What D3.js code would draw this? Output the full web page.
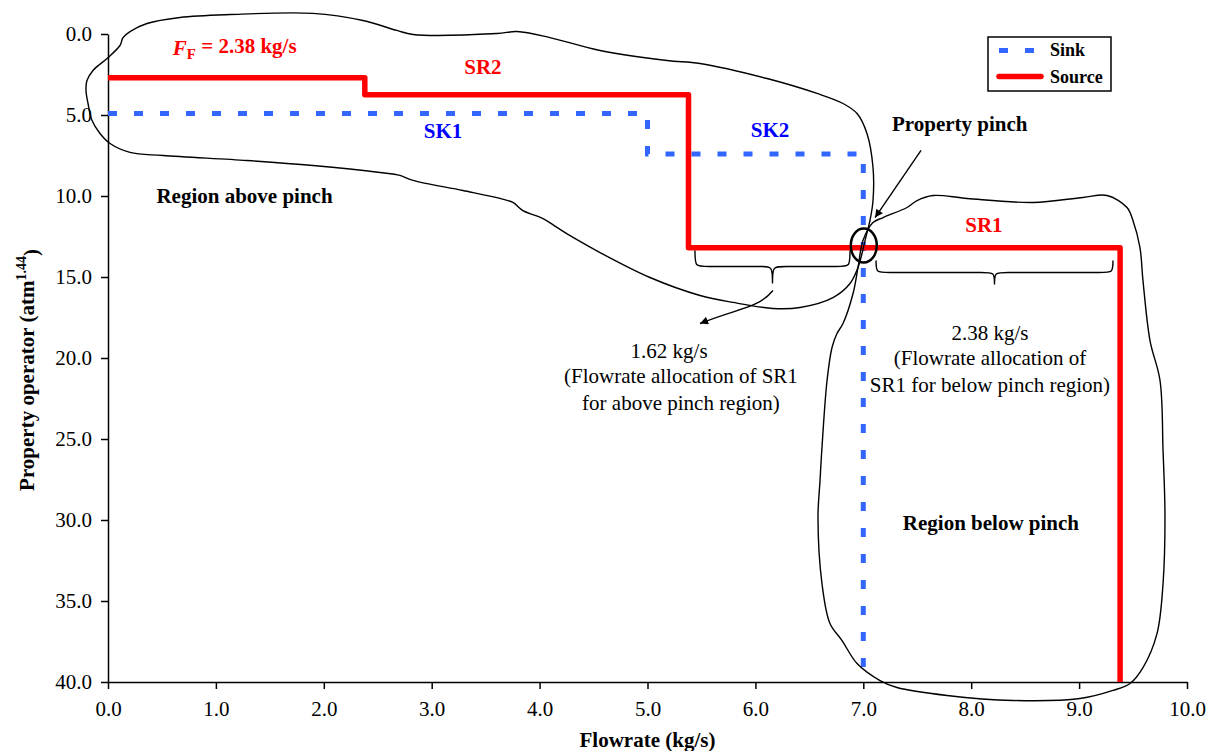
<!DOCTYPE html>
<html>
<head>
<meta charset="utf-8">
<script src="https://cdn.jsdelivr.net/npm/d3@7"></script>
<style>
  body { margin: 0; background: #fff; }
  text { font-family: "Liberation Serif", "Times New Roman", serif; }
</style>
</head>
<body>
<svg id="chart" width="1208" height="751"></svg>
<script>
// ---------------- data ----------------
const xTicks = [0, 1, 2, 3, 4, 5, 6, 7, 8, 9, 10];
const yTicks = [0, 5, 10, 15, 20, 25, 30, 35, 40];

// Sink composite curve (flowrate kg/s, property operator atm^1.44)
const sinkFlow     = [0, 5.0, 5.0, 7.0, 7.0];
const sinkOperator = [4.9, 4.9, 7.4, 7.4, 40];

// Source composite curve
const sourceFlow     = [0, 2.38, 2.38, 5.38, 5.38, 9.38, 9.38];
const sourceOperator = [2.7, 2.7, 3.75, 3.75, 13.2, 13.2, 40];

const seriesNames = ["Sink", "Source"];

// Hand-drawn region outlines (in data units)
const aboveRegionFlow = [0.139,0.204,0.361,0.667,1.131,1.900,2.363,2.678,2.827,3.605,3.791,4.096,4.560,5.181,5.487,6.108,6.571,6.812,6.942,7.034,7.090,7.090,7.062,7.016,6.988,6.951,6.877,6.719,6.413,6.163,5.792,5.487,5.023,4.560,4.310,4.161,4.032,3.846,3.753,3.633,3.290,2.827,2.706,2.521,1.900,1.288,0.510,0.204,0.019,-0.074,-0.148,-0.185,-0.204,-0.195,-0.139,-0.009,0.111];
const aboveRegionOp   = [0.22,-0.15,-0.65,-1.02,-1.20,-1.27,-0.83,-0.22,0.03,-0.03,-0.15,0.22,1.02,1.64,1.82,2.75,3.67,4.29,4.91,6.14,8.24,10.28,11.51,12.75,13.55,14.41,15.40,16.27,16.88,16.94,16.57,16.14,15.03,13.49,12.56,11.94,11.39,10.90,10.40,10.15,9.66,9.04,8.73,8.55,8.12,7.81,7.50,7.31,6.76,6.14,5.34,4.29,3.49,2.87,2.25,1.51,0.71];

const belowRegionFlow = [7.090,6.997,6.951,6.905,6.812,6.756,6.710,6.664,6.617,6.599,6.580,6.617,6.691,6.803,6.942,7.155,7.312,7.776,8.387,9.008,9.314,9.472,9.592,9.722,9.778,9.796,9.778,9.750,9.657,9.592,9.564,9.499,9.444,9.259,9.036,8.573,7.961,7.646,7.498,7.405,7.183];
const belowRegionOp   = [11.64,12.75,14.41,16.02,17.87,18.49,19.35,21.39,25.52,27.56,29.85,33.92,36.39,37.44,38.86,39.91,40.34,40.83,41.14,41.02,40.52,40.09,39.11,37.01,33.92,29.85,25.71,21.39,18.92,15.22,13.18,11.51,10.71,9.97,10.09,10.40,10.15,9.97,10.28,10.71,11.33];

// pinch point and braces (data units)
const pinchPoint = [7.0, 13.06];
const braceAbove = {x1: 5.44, x2: 6.877, y0: 13.36, yf: 14.35, tip: 15.40};
const braceBelow = {x1: 7.118, x2: 9.314, y0: 13.98, yf: 14.72, tip: 15.46};

// ---------------- layout ----------------
const svg = d3.select("#chart");
const x = d3.scaleLinear().domain([0, 10]).range([108, 1187]);
const y = d3.scaleLinear().domain([0, 40]).range([34, 682]);
const fmt = d3.format(".1f");

// defs: arrow marker
const defs = svg.append("defs");
defs.append("marker")
  .attr("id", "arrow")
  .attr("viewBox", "0 0 10 10")
  .attr("refX", 10).attr("refY", 5)
  .attr("markerWidth", 10).attr("markerHeight", 8)
  .attr("markerUnits", "userSpaceOnUse")
  .attr("orient", "auto")
  .append("path").attr("d", "M0,0 L10,5 L0,10 z").attr("fill", "#000");

// axes
const yAxis = svg.append("g")
  .attr("transform", `translate(${x(0)},0)`)
  .call(d3.axisLeft(y).tickValues(yTicks).tickFormat(fmt).tickSizeInner(7).tickSizeOuter(0).tickPadding(9));
const xAxis = svg.append("g")
  .attr("transform", `translate(0,${y(40)})`)
  .call(d3.axisBottom(x).tickValues(xTicks).tickFormat(fmt).tickSizeInner(7).tickSizeOuter(0).tickPadding(12));
[xAxis, yAxis].forEach(g => {
  g.selectAll("path.domain").attr("stroke", "#000").attr("stroke-width", 1.5);
  g.selectAll(".tick line").attr("stroke", "#000").attr("stroke-width", 1.5);
  g.selectAll(".tick text").attr("fill", "#000")
    .style("font-family", '"Liberation Serif", serif').style("font-size", "21px");
});

// axis titles
svg.append("text")
  .attr("x", (x(0) + x(10)) / 2).attr("y", 747)
  .attr("text-anchor", "middle")
  .style("font-size", "21px").style("font-weight", "bold")
  .text("Flowrate (kg/s)");

const yTitle = svg.append("text")
  .attr("transform", `translate(34,${(y(0) + y(40)) / 2 + 12}) rotate(-90)`)
  .attr("text-anchor", "middle")
  .style("font-size", "21px").style("font-weight", "bold");
yTitle.append("tspan").text("Property operator (atm");
yTitle.append("tspan").attr("dy", "-0.55em").style("font-size", "14px").text("1.44");
yTitle.append("tspan").attr("dy", "0.55em").text(")");

// series lines
const line = d3.line().x(d => x(d[0])).y(d => y(d[1]));
const sinkPts = sinkFlow.map((f, i) => [f, sinkOperator[i]]);
const sourcePts = sourceFlow.map((f, i) => [f, sourceOperator[i]]);

svg.append("path").datum(sinkPts)
  .attr("d", line).attr("fill", "none")
  .attr("stroke", "#3366FF").attr("stroke-width", 5)
  .attr("stroke-dasharray", "9,17");

svg.append("path").datum(sourcePts)
  .attr("d", line).attr("fill", "none")
  .attr("stroke", "#FF0000").attr("stroke-width", 5.5)
  .attr("stroke-linejoin", "round");

// region outlines
const blob = d3.line().x(d => x(d[0])).y(d => y(d[1])).curve(d3.curveCatmullRomClosed.alpha(0.5));
svg.append("path").datum(aboveRegionFlow.map((f, i) => [f, aboveRegionOp[i]]))
  .attr("d", blob).attr("fill", "none").attr("stroke", "#000").attr("stroke-width", 1.4);
svg.append("path").datum(belowRegionFlow.map((f, i) => [f, belowRegionOp[i]]))
  .attr("d", blob).attr("fill", "none").attr("stroke", "#000").attr("stroke-width", 1.4);

// pinch ellipse
svg.append("ellipse")
  .attr("cx", x(pinchPoint[0]) + 0.5).attr("cy", y(pinchPoint[1]))
  .attr("rx", 13).attr("ry", 17)
  .attr("fill", "none").attr("stroke", "#000").attr("stroke-width", 2.5);

// braces
function bracePath(b) {
  const x1 = x(b.x1), x2 = x(b.x2), xm = (x1 + x2) / 2;
  const y0 = y(b.y0), yf = y(b.yf), yt = y(b.tip);
  const r = 14;
  return `M${x1},${y0} C${x1},${yf} ${x1},${yf} ${x1 + r},${yf} L${xm - r},${yf} C${xm},${yf} ${xm},${yf} ${xm},${yt} ` +
         `M${xm},${yt} C${xm},${yf} ${xm},${yf} ${xm + r},${yf} L${x2 - r},${yf} C${x2},${yf} ${x2},${yf} ${x2},${y0}`;
}
[braceAbove, braceBelow].forEach(b => {
  svg.append("path").attr("d", bracePath(b))
    .attr("fill", "none").attr("stroke", "#000").attr("stroke-width", 1.4);
});

// arrows
svg.append("line")
  .attr("x1", x(7.535)).attr("y1", y(7.19))
  .attr("x2", x(7.109)).attr("y2", y(11.33))
  .attr("stroke", "#000").attr("stroke-width", 1.4)
  .attr("marker-end", "url(#arrow)");

const a0 = [x(6.163), y(15.83)], a1 = [x(5.487), y(17.87)];
svg.append("path")
  .attr("d", `M${a0[0]},${a0[1]} C${a0[0] - 15},${a0[1] + 18} ${a1[0] + 40},${a1[1] - 16} ${a1[0]},${a1[1]}`)
  .attr("fill", "none").attr("stroke", "#000").attr("stroke-width", 1.4)
  .attr("marker-end", "url(#arrow)");

// labels
function label(t, fx, fy, opts = {}) {
  return svg.append("text")
    .attr("x", x(fx)).attr("y", y(fy))
    .attr("text-anchor", opts.anchor || "middle")
    .attr("fill", opts.color || "#000")
    .style("font-size", (opts.size || 21) + "px")
    .style("font-weight", opts.bold === false ? "normal" : "bold")
    .text(t);
}

const ff = svg.append("text")
  .attr("x", x(0.60)).attr("y", y(1.27))
  .attr("fill", "#FF0000").style("font-size", "21px").style("font-weight", "bold");
ff.append("tspan").style("font-style", "italic").text("F");
ff.append("tspan").attr("dy", "0.3em").style("font-size", "15px").text("F");
ff.append("tspan").attr("dy", "-0.3em").text(" = 2.38 kg/s");

label("SR2", 3.475, 2.44, {color: "#FF0000"});
label("SK1", 3.105, 6.39, {color: "#0000FF"});
label("SK2", 6.135, 6.33, {color: "#0000FF"});
label("SR1", 8.118, 12.25, {color: "#FF0000"});
label("Property pinch", 7.266, 5.96, {anchor: "start"});
label("Region above pinch", 1.265, 10.46);
label("Region below pinch", 8.183, 30.59);

label("2.38 kg/s", 8.174, 18.86, {bold: false});
label("(Flowrate allocation of", 8.174, 20.46, {bold: false});
label("SR1 for below pinch region)", 8.174, 22.07, {bold: false});

label("1.62 kg/s", 5.20, 19.97, {bold: false});
label("(Flowrate allocation of SR1", 5.31, 21.57, {bold: false});
label("for above pinch region)", 5.31, 23.18, {bold: false});

// legend
const lg = svg.append("g");
lg.append("rect").attr("x", 988).attr("y", 37).attr("width", 123).attr("height", 54)
  .attr("fill", "#fff").attr("stroke", "#000").attr("stroke-width", 1.5);
lg.append("line").attr("x1", 999).attr("x2", 1043).attr("y1", 50.5).attr("y2", 50.5)
  .attr("stroke", "#3366FF").attr("stroke-width", 5).attr("stroke-dasharray", "9,17");
lg.append("line").attr("x1", 999).attr("x2", 1041).attr("y1", 76.5).attr("y2", 76.5)
  .attr("stroke", "#FF0000").attr("stroke-width", 5.5).attr("stroke-linecap", "round");
lg.selectAll("text.lgt").data(seriesNames).join("text")
  .attr("class", "lgt")
  .attr("x", 1050).attr("y", (d, i) => 56 + i * 27)
  .style("font-size", "18px").style("font-weight", "bold")
  .text(d => d);
</script>
</body>
</html>
